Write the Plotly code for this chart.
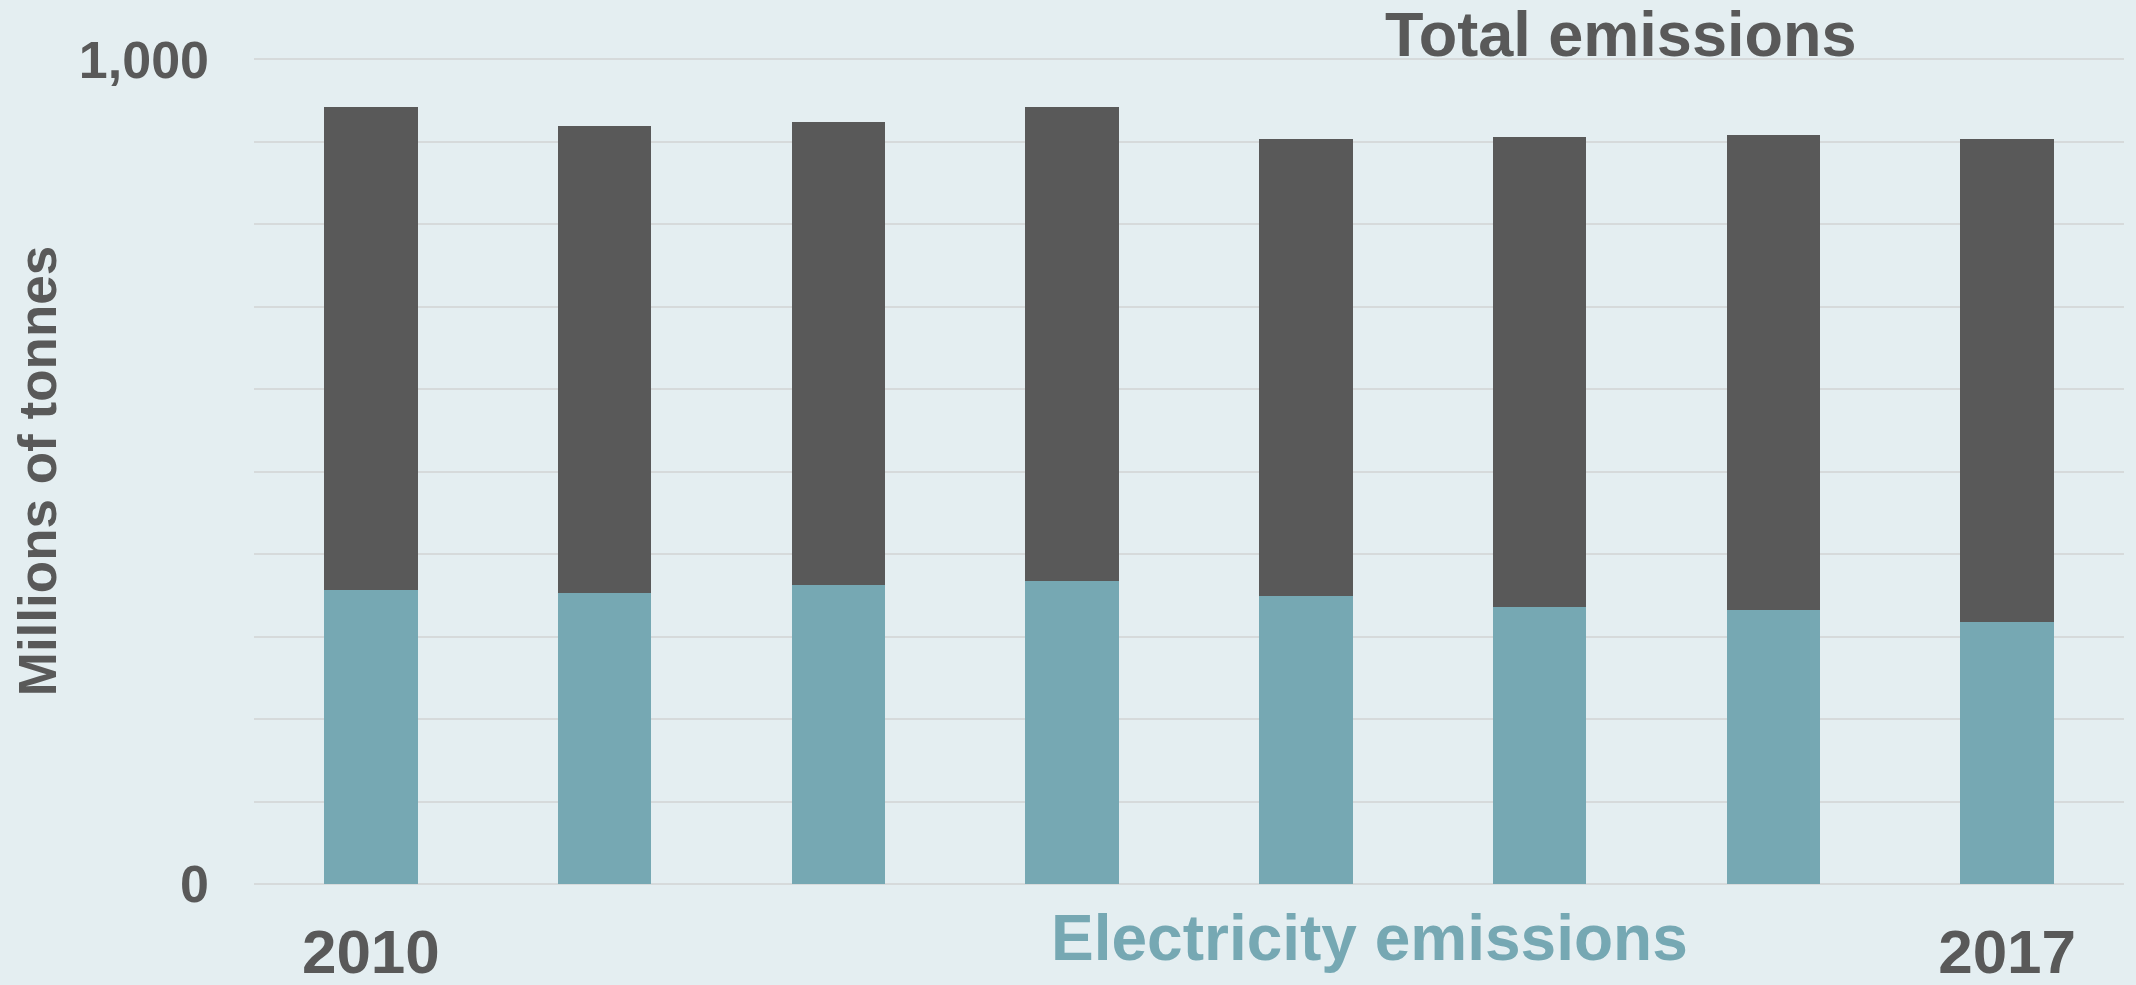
import plotly.graph_objects as go

years = [2010, 2011, 2012, 2013, 2014, 2015, 2016, 2017]
electricity = [357, 353, 363, 367, 349, 336, 332, 318]
total = [942, 919, 924, 942, 903, 906, 908, 904]
other = [t - e for t, e in zip(total, electricity)]

y_tickvals = [0, 1000]
y_ticktext = ["0", "1,000"]
x_tickvals = [2010, 2017]
x_ticktext = ["2010", "2017"]

BG = "#E4EEF1"
DARK = "#595959"
TEAL = "#76A8B3"
GRID = "#D6DADB"
FONT = "Liberation Sans, Arial, sans-serif"

TOP = 56.5
BOT = 884
LEFT = 254
RIGHT = 2124
YMAX = 1003

def px_x(x):
    return (x - LEFT) / (RIGHT - LEFT)

def px_y(y):
    return (BOT - y) / (BOT - TOP)

fig = go.Figure()
fig.add_trace(go.Bar(x=years, y=electricity, name="Electricity emissions",
                     marker=dict(color=TEAL, line=dict(width=0))))
fig.add_trace(go.Bar(x=years, y=other, name="Other emissions",
                     marker=dict(color=DARK, line=dict(width=0))))

fig.update_layout(
    width=2136, height=985,
    barmode="stack", bargap=0.6,
    paper_bgcolor=BG, plot_bgcolor=BG,
    showlegend=False,
    margin=dict(l=LEFT, r=2136 - RIGHT, t=TOP, b=985 - BOT, pad=0, autoexpand=False),
    font=dict(family=FONT, color=DARK),
)
fig.update_xaxes(
    type="linear", range=[2009.5, 2017.5],
    tickvals=x_tickvals, ticktext=x_ticktext,
    tickfont=dict(family=FONT, size=62, color=DARK, weight="bold"),
    showgrid=False, zeroline=False, showline=False, ticks="",
    ticklabelstandoff=26, automargin=False,
)
fig.update_yaxes(
    range=[0, YMAX],
    tickvals=y_tickvals, ticktext=y_ticktext,
    tickfont=dict(family=FONT, size=52, color=DARK, weight="bold"),
    showgrid=True, gridcolor=GRID, gridwidth=2,
    minor=dict(dtick=100, tick0=0, showgrid=True, gridcolor=GRID, gridwidth=2),
    zeroline=True, zerolinecolor=GRID, zerolinewidth=2,
    showline=False, ticks="", ticklabelstandoff=44, automargin=False,
)

fig.add_annotation(text="<b>Millions of tonnes</b>", textangle=-90,
                   xref="paper", yref="paper",
                   x=px_x(37), y=px_y(471),
                   xanchor="center", yanchor="middle", showarrow=False,
                   font=dict(family=FONT, size=53, color=DARK))
fig.add_annotation(text="<b>Total emissions</b>",
                   xref="paper", yref="paper",
                   x=px_x(1620), y=px_y(33),
                   xanchor="center", yanchor="middle", showarrow=False,
                   font=dict(family=FONT, size=63, color=DARK))
fig.add_annotation(text="<b>Electricity emissions</b>",
                   xref="paper", yref="paper",
                   x=px_x(1369), y=px_y(938),
                   xanchor="center", yanchor="middle", showarrow=False,
                   font=dict(family=FONT, size=64, color=TEAL))

fig.write_html(
    "out.html",
    config={"displayModeBar": False},
    post_script="document.body.style.margin='0';document.body.style.overflow='hidden';",
)
